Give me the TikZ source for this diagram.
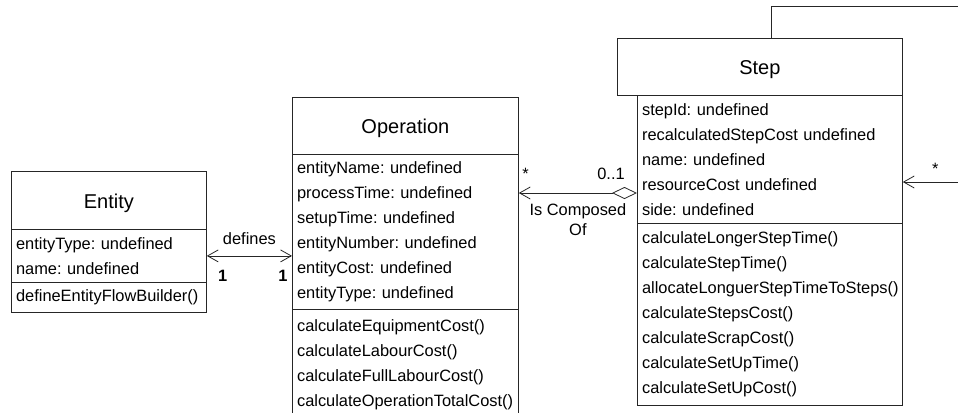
\documentclass[tikz,border=0pt]{standalone}
\usepackage{fontspec}
\setmainfont{Liberation Sans}
\usetikzlibrary{calc, arrows.meta, positioning}
\frenchspacing

\newcommand{\titlefont}{\fontsize{15}{18}\selectfont}
\newcommand{\partfont}{\fontsize{12.3}{18.75}\selectfont}
\def\px{0.75pt}

\tikzset{
	classline/.style={draw=black!85, line width=0.6pt},
	classtitle/.style n args={2}{classline, anchor=north west, font=\titlefont, inner sep=0pt,
		text height=12pt, text depth=0pt, minimum width=#1*\px, minimum height=#2*\px},
	classpart/.style n args={2}{classline, anchor=north west, align=left, font=\partfont,
		inner xsep=3.5pt, inner ysep=0pt, text width=#1*\px-7pt, minimum height=#2*\px},
	assoc/.style={draw=black!85, line width=0.6pt},
	barb/.tip={Straight Barb[length=8pt, width=9pt]},
	hollowdiamond/.tip={Diamond[open, length=18.75pt, width=9pt]},
}

\begin{document}
\begin{tikzpicture}[x=\px, y=-\px, font=\partfont]
	\clip (0,0) rectangle (958,412);
	
	% Entity
	\node[classtitle={195}{58}] (ent-title) at (11,171) {Entity};
	\node[classpart={195}{53}] (ent-attr) at (11,229) {entityType: undefined\\name: undefined};
	\node[classpart={195}{30}] (ent-meth) at (11,282) {defineEntityFlowBuilder()};
	
	% Operation
	\node[classtitle={226}{57}] (op-title) at (292,97) {Operation};
	\node[classpart={226}{155}] (op-attr) at (292,154) {entityName: undefined\\processTime: undefined\\setupTime: undefined\\entityNumber: undefined\\entityCost: undefined\\entityType: undefined};
	\node[classpart={226}{110}] (op-meth) at (292,309) {calculateEquipmentCost()\\calculateLabourCost()\\calculateFullLabourCost()\\calculateOperationTotalCost()};
	
	% Step
	\node[classtitle={285}{57}] (step-title) at (617,38) {Step};
	\node[classpart={265}{128}] (step-attr) at (637,95) {stepId: undefined\\recalculatedStepCost undefined\\name: undefined\\resourceCost undefined\\side: undefined};
	\node[classpart={265}{182}] (step-meth) at (637,223) {calculateLongerStepTime()\\calculateStepTime()\\allocateLonguerStepTimeToSteps()\\calculateStepsCost()\\calculateScrapCost()\\calculateSetUpTime()\\calculateSetUpCost()};
	
	\coordinate (compo) at (637,193);
	\coordinate (stepin) at (958,182);
	\coordinate (loopcorner) at (771,6);
	\coordinate (loopend) at (958,6);
	
	\begin{scope}[assoc]
		\draw[barb-barb] (ent-attr.east) -- (op-attr.west |- ent-attr.east)
			node[midway, above=5pt] {defines}
			node[pos=0, xshift=12pt, yshift=-15pt] {\textbf{1}}
			node[pos=1, xshift=-6.75pt, yshift=-15pt] {\textbf{1}};
		\draw[barb-hollowdiamond] (op-attr.east |- compo) -- (compo)
			node[pos=0, xshift=5pt, yshift=14pt] {*}
			node[pos=1, xshift=-19.5pt, yshift=14pt] {0..1}
			node[midway, below=8pt, inner sep=0pt, align=center, font=\fontsize{12.3}{15}\selectfont] {Is Composed\\Of};
		\draw[-barb] (stepin) -- (step-attr.east |- stepin)
			node[pos=0, xshift=-17pt, yshift=10pt] {*};
		\draw (step-title.north -| loopcorner) -- (loopcorner) -- (loopend);
	\end{scope}
\end{tikzpicture}
\end{document}
